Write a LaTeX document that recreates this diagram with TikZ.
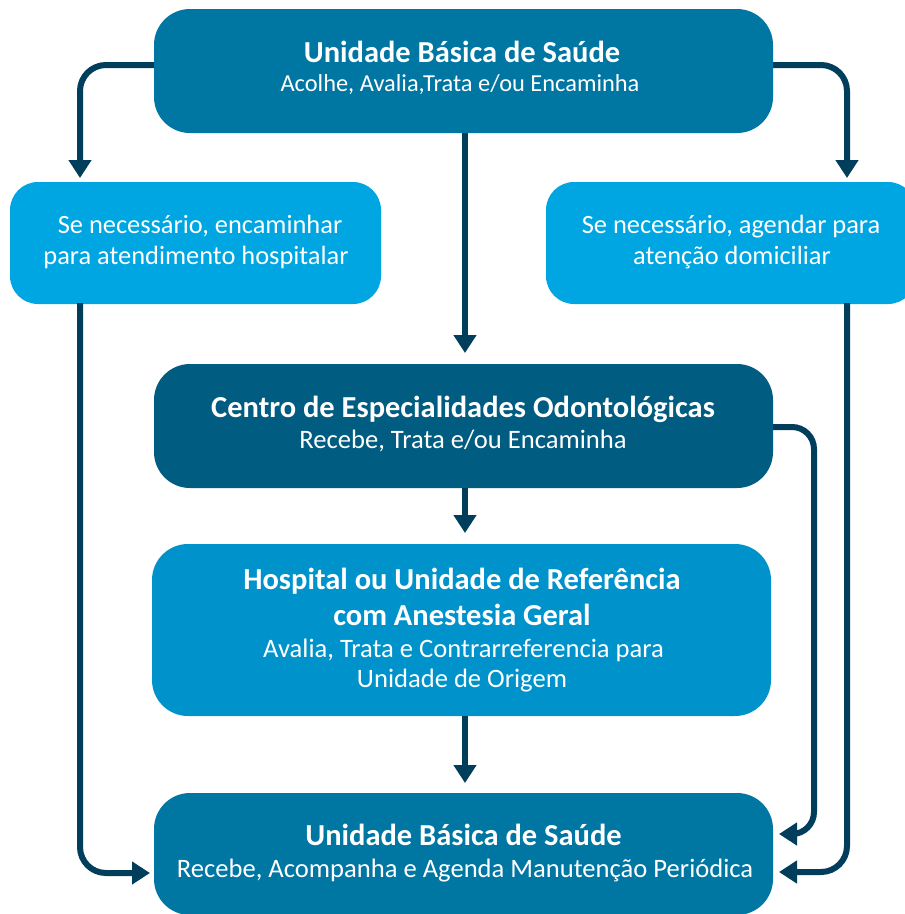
\documentclass[tikz,border=0pt]{standalone}
\usepackage{fontspec}
\setmainfont{Carlito}
\usetikzlibrary{arrows.meta,calc}
\definecolor{ubsblue}{HTML}{0076A3}
\definecolor{lightblue}{HTML}{00A6E2}
\definecolor{ceoblue}{HTML}{005C80}
\definecolor{hospblue}{HTML}{0093CB}
\definecolor{arrowcol}{HTML}{003E5C}
\tikzset{
  box/.style={rounded corners=36pt, inner sep=0pt, outer sep=0pt, draw=none},
  lightbox/.style={rounded corners=28pt, inner sep=0pt, outer sep=0pt, draw=none, fill=lightblue},
  ttl/.style={anchor=base, text=white, inner sep=0pt, font=\fontsize{30.5}{36}\selectfont\bfseries},
  sub/.style={anchor=base, text=white, inner sep=0pt, font=\fontsize{26.6}{31}\selectfont},
  topsub/.style={anchor=base, text=white, inner sep=0pt, font=\fontsize{24.4}{29}\selectfont},
  ltxt/.style={anchor=base, text=white, inner sep=0pt, font=\fontsize{26.4}{31}\selectfont},
  arr/.style={draw=arrowcol, line width=6pt, rounded corners=26pt, -{Triangle[width=22pt,length=18pt]}}
}
\begin{document}
\begin{tikzpicture}[x=1pt,y=-1pt]
\useasboundingbox (0,0) rectangle (905,914);
\clip (0,0) rectangle (905,914);
\fill[white] (0,0) rectangle (905,914);

% boxes
\node[box, fill=ubsblue, minimum width=619pt, minimum height=124pt] (ubs1) at (463.5,71) {};
\node[lightbox, minimum width=371pt, minimum height=122pt] (lbox) at (195.5,243) {};
\node[lightbox, minimum width=370pt, minimum height=122pt] (rbox) at (731,243) {};
\node[box, fill=ceoblue, minimum width=619pt, minimum height=124pt] (ceo) at (463.5,426) {};
\node[box, fill=hospblue, minimum width=619pt, minimum height=172pt] (hosp) at (461.5,630) {};
\node[box, fill=ubsblue, minimum width=619pt, minimum height=122pt] (ubs2) at (463.5,854) {};

% texts
\node[ttl] (t1a) at (462,62) {Unidade Básica de Saúde};
\node[topsub] (t1b) at (460,91) {Acolhe, Avalia,Trata e/ou Encaminha};

\node[ltxt] (l1) at (200,233) {Se necessário, encaminhar};
\node[ltxt] (l2) at (196,264) {para atendimento hospitalar};

\node[ltxt] (r1) at (731,233) {Se necessário, agendar para};
\node[ltxt] (r2) at (732,264) {atenção domiciliar};

\node[ttl] (c1) at (463,417) {Centro de Especialidades Odontológicas};
\node[sub] (c2) at (463,448) {Recebe, Trata e/ou Encaminha};

\node[ttl] (h1) at (462,589) {Hospital ou Unidade de Referência};
\node[ttl] (h2) at (462,625) {com Anestesia Geral};
\node[sub] (h3) at (463.5,657) {Avalia, Trata e Contrarreferencia para};
\node[sub] (h4) at (462,687) {Unidade de Origem};

\node[ttl] (b1) at (463.5,845) {Unidade Básica de Saúde};
\node[sub] (b2) at (465,877) {Recebe, Acompanha e Agenda Manutenção Periódica};

% connectors
\draw[arr] ([yshift=6pt]ubs1.west) -| ($(lbox.north west)+(70,-4)$);
\draw[arr] ([yshift=6pt]ubs1.east) -| ($(rbox.north west)+(301,-4)$);
\draw[arr, rounded corners=0pt] ([xshift=1.5pt]ubs1.south) -- ([xshift=1.5pt,yshift=11pt]ceo.north);
\draw[arr, rounded corners=0pt] ([xshift=1.5pt]ceo.south) -- ([xshift=3.5pt,yshift=11pt]hosp.north);
\draw[arr, rounded corners=0pt] ([xshift=3.5pt]hosp.south) -- ([xshift=1.5pt,yshift=10pt]ubs2.north);
\draw[arr] ($(lbox.south west)+(70,-1)$) |- ([xshift=-4pt,yshift=-19pt]ubs2.west);
\draw[arr] ($(rbox.south west)+(301,-1)$) |- ([xshift=6pt,yshift=-18pt]ubs2.east);
\draw[arr, rounded corners=22pt] ([yshift=-1pt]ceo.east) -- ($(ceo.east)+(41,1)$) |- ([xshift=6pt,yshift=20pt]ubs2.east);
\end{tikzpicture}
\end{document}
